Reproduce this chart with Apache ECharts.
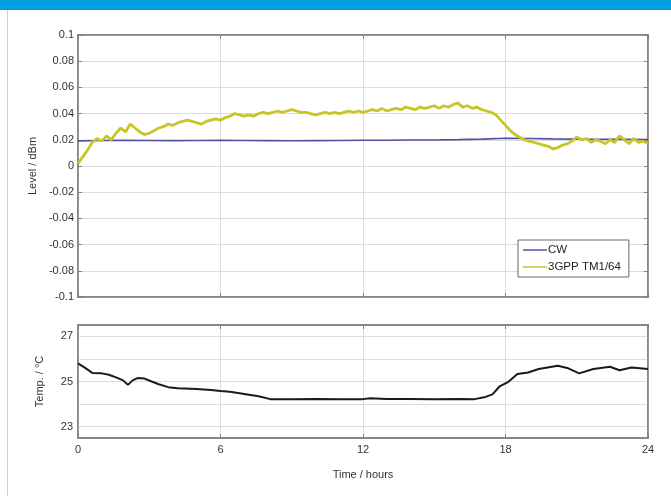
<!DOCTYPE html>
<html><head><meta charset="utf-8">
<script src="https://cdn.jsdelivr.net/npm/echarts@6/dist/echarts.min.js"></script>
<style>html,body{margin:0;padding:0;background:#fff}#c{width:671px;height:496px}</style>
</head><body><div id="c"></div>
<script>
const seriesNames = ['CW', '3GPP TM1/64'];
const xTicks = [0, 6, 12, 18, 24];
const levelTickLabels = ['0.1','0.08','0.06','0.04','0.02','0','-0.02','-0.04','-0.06','-0.08','-0.1'];
const tempTickLabels = ['23','25','27'];

const cwHours = [0,1,2,3,4,5,6,7,8,9,10,11,12,13,14,15,16,17,18,19,20,21,22,23,24];
const cwLevel = [0.0192,0.0195,0.0197,0.0195,0.0194,0.0195,0.0196,0.0195,0.0194,0.0193,0.0194,0.0195,0.0196,0.0197,0.0198,0.0199,0.0201,0.0205,0.0212,0.0210,0.0207,0.0205,0.0204,0.0203,0.0202];

const tmHours = [0,0.2,0.4,0.6,0.8,1,1.2,1.4,1.6,1.8,2,2.2,2.4,2.6,2.8,3,3.2,3.4,3.6,3.8,4,4.2,4.4,4.6,4.8,5,5.2,5.4,5.6,5.8,6,6.2,6.4,6.6,6.8,7,7.2,7.4,7.6,7.8,8,8.2,8.4,8.6,8.8,9,9.2,9.4,9.6,9.8,10,10.2,10.4,10.6,10.8,11,11.2,11.4,11.6,11.8,12,12.2,12.4,12.6,12.8,13,13.2,13.4,13.6,13.8,14,14.2,14.4,14.6,14.8,15,15.2,15.4,15.6,15.8,16,16.2,16.4,16.6,16.8,17,17.2,17.4,17.6,17.8,18,18.2,18.4,18.6,18.8,19,19.2,19.4,19.6,19.8,20,20.2,20.4,20.6,20.8,21,21.2,21.4,21.6,21.8,22,22.2,22.4,22.6,22.8,23,23.2,23.4,23.6,23.8,24];
const tmLevel = [0.002,0.007,0.012,0.018,0.021,0.019,0.023,0.020,0.025,0.029,0.026,0.032,0.029,0.026,0.024,0.025,0.027,0.029,0.030,0.032,0.031,0.033,0.034,0.035,0.034,0.033,0.032,0.034,0.035,0.036,0.035,0.037,0.038,0.040,0.039,0.038,0.039,0.038,0.040,0.041,0.040,0.041,0.042,0.041,0.042,0.043,0.042,0.041,0.041,0.040,0.039,0.040,0.041,0.040,0.041,0.040,0.041,0.042,0.041,0.042,0.041,0.042,0.043,0.042,0.044,0.042,0.043,0.044,0.043,0.045,0.044,0.043,0.045,0.044,0.045,0.046,0.044,0.046,0.045,0.047,0.048,0.045,0.046,0.044,0.045,0.043,0.042,0.041,0.039,0.035,0.031,0.027,0.024,0.022,0.020,0.019,0.018,0.017,0.016,0.015,0.013,0.014,0.016,0.017,0.019,0.022,0.020,0.021,0.018,0.020,0.019,0.017,0.020,0.018,0.023,0.020,0.017,0.021,0.018,0.019,0.017];

const tempHours = [0,0.3,0.6,1,1.3,1.6,1.9,2.1,2.3,2.5,2.8,3.1,3.4,3.8,4.2,5,5.6,6,6.4,7,7.6,8.1,9,10,11,12,12.3,13,14,15,16,16.7,17.1,17.45,17.75,18.1,18.5,18.95,19.4,20.2,20.6,21.1,21.7,22.4,22.8,23.3,24];
const tempValues = [25.8,25.6,25.38,25.36,25.3,25.18,25.05,24.85,25.05,25.15,25.13,25.0,24.88,24.75,24.7,24.67,24.62,24.58,24.55,24.45,24.35,24.22,24.22,24.23,24.21,24.22,24.26,24.23,24.23,24.22,24.23,24.22,24.3,24.43,24.78,24.97,25.33,25.4,25.55,25.7,25.6,25.36,25.55,25.65,25.5,25.62,25.55];

const zip = (a, b) => a.map((v, i) => [v, b[i]]);
const FONT = 'Liberation Sans, Arial, sans-serif';
const axisLabelStyle = {color: '#333', fontSize: 11, fontFamily: FONT};
const borderCol = '#808080';
const gridCol = '#dcdcdc';
const clear = 'rgba(0,0,0,0)';
const boxTick = {show: true, inside: true, length: 4, lineStyle: {color: borderCol}};

function mirrorX(gridIndex) {
  return {gridIndex, type: 'value', min: 0, max: 24, interval: 6, position: 'top',
    axisLine: {show: true, onZero: false, lineStyle: {color: borderCol, width: 1.5}},
    axisTick: boxTick, axisLabel: {show: false}, splitLine: {show: false}};
}
function mirrorY(gridIndex, min, max, interval, showTick) {
  return {gridIndex, type: 'value', min, max, interval, position: 'right',
    axisLine: {show: true, onZero: false, lineStyle: {color: borderCol, width: 1.5}},
    axisTick: showTick ? boxTick : {show: false}, axisLabel: {show: false}, splitLine: {show: false}};
}

const chart = echarts.init(document.getElementById('c'), null, {renderer: 'canvas'});
chart.setOption({
  backgroundColor: '#ffffff',
  animation: false,
  graphic: [
    {type: 'rect', shape: {x: 0, y: 0, width: 671, height: 10}, style: {fill: '#009ee0'}},
    {type: 'line', shape: {x1: 7.5, y1: 10, x2: 7.5, y2: 496}, style: {stroke: '#cfcfcf', lineWidth: 1}}
  ],
  grid: [
    {left: 78, right: 23, top: 35, height: 262, show: true, borderColor: borderCol, borderWidth: 1.5, backgroundColor: '#fff'},
    {left: 78, right: 23, top: 325, height: 113, show: true, borderColor: borderCol, borderWidth: 1.5, backgroundColor: '#fff'}
  ],
  xAxis: [
    {gridIndex: 0, type: 'value', min: 0, max: 24, interval: 6,
     axisLine: {show: true, onZero: false, lineStyle: {color: borderCol, width: 1.5}},
     axisTick: boxTick,
     axisLabel: {show: false},
     splitLine: {show: true, lineStyle: {color: gridCol, width: 1}}},
    {gridIndex: 1, type: 'value', min: 0, max: 24, interval: 6,
     axisLine: {show: true, onZero: false, lineStyle: {color: borderCol, width: 1.5}},
     axisTick: boxTick,
     axisLabel: Object.assign({margin: 6, formatter: v => xTicks.includes(v) ? String(v) : ''}, axisLabelStyle),
     splitLine: {show: true, lineStyle: {color: gridCol, width: 1}},
     name: 'Time / hours', nameLocation: 'middle', nameGap: 31,
     nameTextStyle: {color: '#333', fontSize: 11, fontFamily: FONT}},
    mirrorX(0), mirrorX(1)
  ],
  yAxis: [
    {gridIndex: 0, type: 'value', min: -0.1, max: 0.1, interval: 0.02,
     axisLine: {show: true, onZero: false, lineStyle: {color: borderCol, width: 1.5}},
     axisTick: boxTick,
     axisLabel: Object.assign({margin: 4, formatter: v => {
        const s = String(+(+v).toFixed(2));
        return levelTickLabels.includes(s) ? s : '';
     }}, axisLabelStyle),
     splitLine: {show: true, lineStyle: {color: gridCol, width: 1}},
     name: 'Level / dBm', nameLocation: 'middle', nameGap: 33, nameRotate: 90,
     nameTextStyle: {color: '#333', fontSize: 11, fontFamily: FONT}},
    {gridIndex: 1, type: 'value', min: 22.5, max: 27.5, interval: 0.5,
     axisLine: {show: true, onZero: false, lineStyle: {color: borderCol, width: 1.5}},
     axisTick: {show: false},
     axisLabel: Object.assign({margin: 5, formatter: v => {
        const s = String(+(+v).toFixed(1));
        return tempTickLabels.includes(s) ? s : '';
     }}, axisLabelStyle),
     splitLine: {show: true, lineStyle: {color: [clear, gridCol], width: 1}},
     name: 'Temp. / °C', nameLocation: 'middle', nameGap: 33, nameRotate: 90,
     nameTextStyle: {color: '#333', fontSize: 11, fontFamily: FONT}},
    mirrorY(0, -0.1, 0.1, 0.02, true), mirrorY(1, 22.5, 27.5, 0.5, false)
  ],
  legend: {
    left: 518, top: 240, orient: 'vertical',
    data: seriesNames,
    icon: 'rect', itemWidth: 24, itemHeight: 1.5, itemGap: 5,
    backgroundColor: '#fff', borderColor: '#666', borderWidth: 1,
    padding: [4, 8, 4, 5],
    textStyle: {color: '#222', fontSize: 11.5, fontFamily: FONT, padding: [0, 0, 0, -4]}
  },
  series: [
    {name: seriesNames[0], type: 'line', xAxisIndex: 0, yAxisIndex: 0, data: zip(cwHours, cwLevel),
     showSymbol: false, lineStyle: {color: '#4f4fa8', width: 1.6}, itemStyle: {color: '#4f4fa8'}, z: 3},
    {name: seriesNames[1], type: 'line', xAxisIndex: 0, yAxisIndex: 0, data: zip(tmHours, tmLevel),
     showSymbol: false, lineStyle: {color: '#c9c526', width: 2.8}, itemStyle: {color: '#c9c526'}, z: 4},
    {name: 'Temp', type: 'line', xAxisIndex: 1, yAxisIndex: 1, data: zip(tempHours, tempValues),
     showSymbol: false, lineStyle: {color: '#1a1a1a', width: 2}, itemStyle: {color: '#1a1a1a'}}
  ]
});
</script></body></html>
